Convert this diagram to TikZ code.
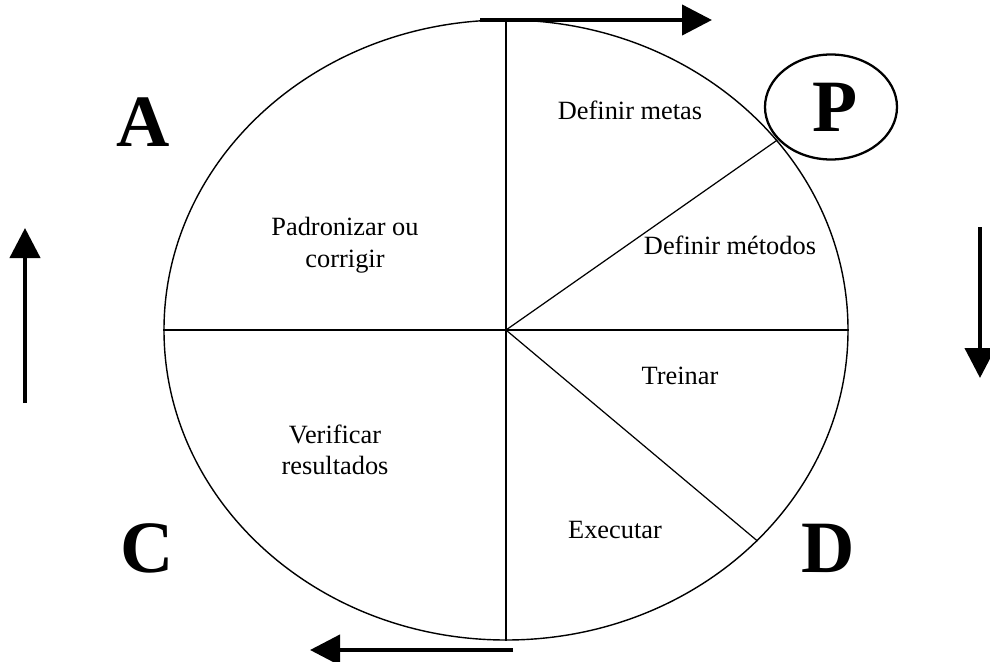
\documentclass[tikz,border=0pt]{standalone}
\usepackage{fontspec}
\setmainfont{Liberation Serif}
\usepackage{tikz}
\usetikzlibrary{positioning,arrows.meta,shapes.geometric}

\begin{document}
\begin{tikzpicture}[x=0.2mm, y=-0.2mm,
    every node/.style={font=\fontsize{15}{18}\selectfont, align=center},
    letter/.style={font=\fontsize{42}{44}\selectfont\bfseries, inner sep=0pt},
    turn/.style={line width=2.4pt, -{Triangle[length=6mm, width=6mm]}}]
  \useasboundingbox (0,0) rectangle (990,662);
  % the wheel
  \node[draw, ellipse, line width=0.8pt, inner sep=0pt, minimum width=13.68cm, minimum height=12.4cm] (wheel) at (506,330) {};
  \draw[line width=0.7pt] (wheel.north) -- (wheel.south);
  \draw[line width=0.7pt] (wheel.west) -- (wheel.east);
  \draw[line width=0.7pt] (wheel.center) -- (wheel.35);
  \draw[line width=0.7pt] (wheel.center) -- (wheel.-40);
  % the steps
  \node (metas) at (630,110) {Definir metas};
  \node (padron) at (345,245) {Padronizar ou\\corrigir};
  \node (metodos) at (730,245) {Definir métodos};
  \node (treinar) at (680,376) {Treinar};
  \node (verif) at (335,450) {Verificar\\resultados};
  \node (exec) at (615,530) {Executar};
  % the letters
  \node[letter] (pA) at (143,122) {A};
  \node[letter] (pC) at (147,548) {C};
  \node[letter] (pD) at (828,548) {D};
  \node[letter] (pP) at (835,107) {P};
  \node[draw, ellipse, line width=1.3pt, minimum width=2.64cm, minimum height=2.1cm] (ringP) at (831,107) {};
  % the turning arrows
  \coordinate (topL) at (480,20);
  \coordinate (topR) at (712,20);
  \coordinate (rightT) at (980,227);
  \coordinate (rightB) at (980,378);
  \coordinate (botR) at (513,650);
  \coordinate (botL) at (310,650);
  \coordinate (leftB) at (25,403);
  \coordinate (leftT) at (25,228);
  \draw[turn] (topL) -- (topR);
  \draw[turn] (rightT) -- (rightB);
  \draw[turn] (botR) -- (botL);
  \draw[turn] (leftB) -- (leftT);
\end{tikzpicture}
\end{document}
